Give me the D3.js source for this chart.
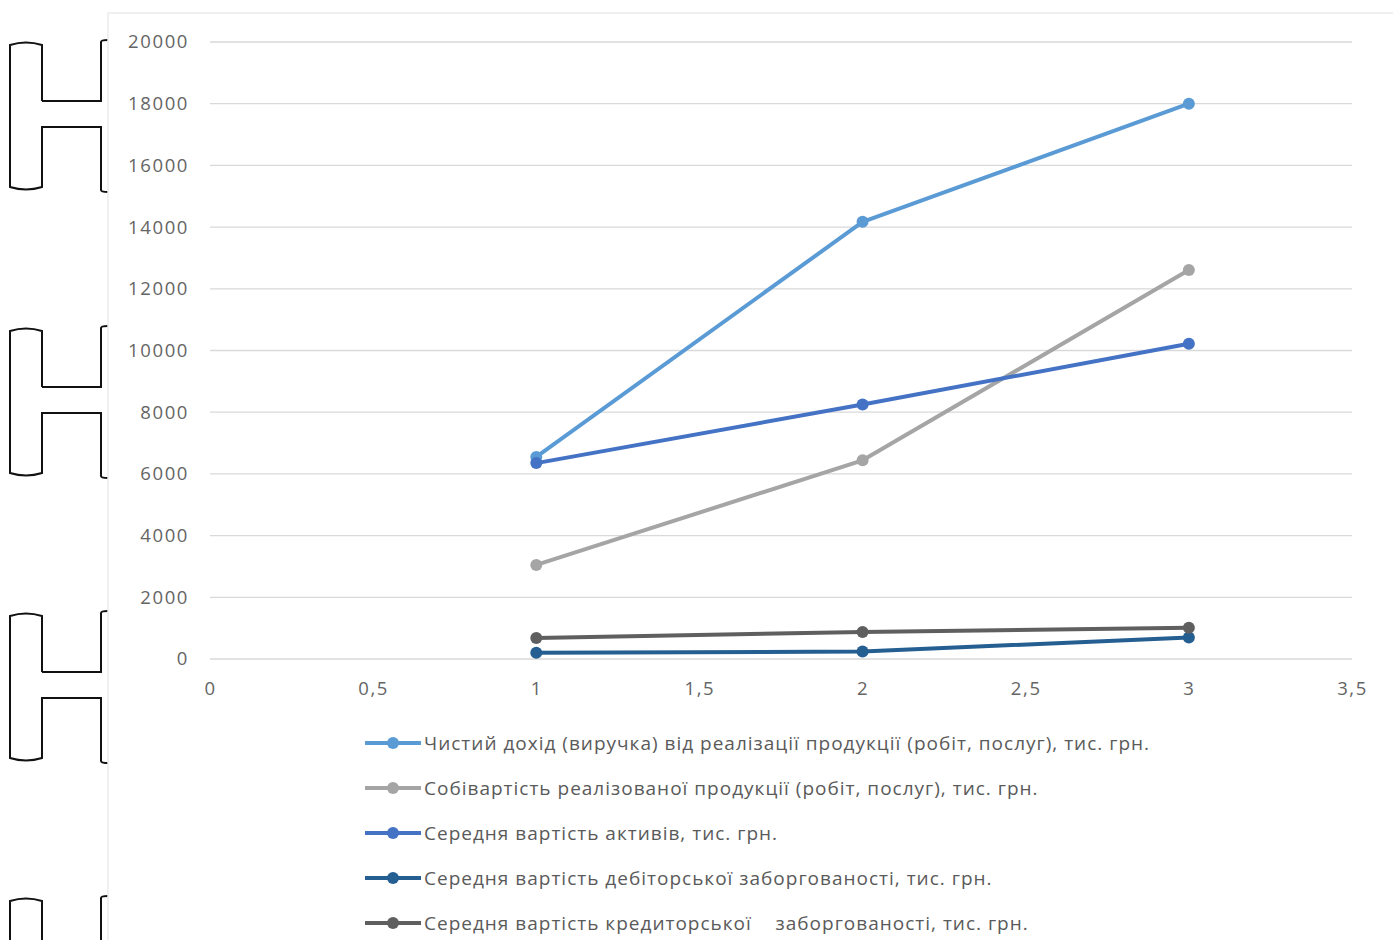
<!DOCTYPE html>
<html>
<head>
<meta charset="utf-8">
<script src="https://cdn.jsdelivr.net/npm/d3@7/dist/d3.min.js"></script>
<style>
  html, body { margin: 0; padding: 0; background: #fff; }
  svg { display: block; }
  text { font-family: "Open Sans", "Noto Sans", sans-serif; }
</style>
</head>
<body>
<svg id="chart" width="1393" height="940"></svg>
<script>
// Period index on the x axis
const periods = [1, 2, 3];

// Series values, тис. грн.
const revenue     = [6550, 14170, 18000];
const costOfSales = [3050, 6440, 12610];
const avgAssets   = [6350, 8250, 10220];
const receivables = [200, 240, 700];
const payables    = [680, 875, 1010];

const seriesNames = [
  "Чистий дохід (виручка) від реалізації продукції (робіт, послуг), тис. грн.",
  "Собівартість реалізованої продукції (робіт, послуг), тис. грн.",
  "Середня вартість активів, тис. грн.",
  "Середня вартість дебіторської заборгованості, тис. грн.",
  "Середня вартість кредиторської    заборгованості, тис. грн."
];
const seriesColors = ["#5b9bd5", "#a5a5a5", "#4472c4", "#255e91", "#5f5f5f"];

const xTicks = [0, 0.5, 1, 1.5, 2, 2.5, 3, 3.5];
const yTicks = [0, 2000, 4000, 6000, 8000, 10000, 12000, 14000, 16000, 18000, 20000];

const seriesValues = [revenue, costOfSales, avgAssets, receivables, payables];

const svg = d3.select("#chart");

// Decorative bracket shapes along the left margin
const brackets = svg.append("g").attr("fill", "none").attr("stroke", "#111").attr("stroke-width", 2);
[42, 328, 613, 898].forEach(top => {
  const h = 148, m1 = top + 59, m2 = top + 85, b = top + h;
  brackets.append("path").attr("d",
    `M42,${m1} L42,${top + 3} Q26,${top - 2} 10,${top + 3} L10,${b - 3} Q26,${b + 2} 42,${b - 3} L42,${m2} L101,${m2} L101,${b} Q101,${b + 2} 108,${b + 2}`);
  brackets.append("path").attr("d",
    `M42,${m1} L101,${m1} L101,${top} Q101,${top - 2} 108,${top - 2}`);
});

// Chart area
svg.append("rect")
  .attr("x", 108).attr("y", 13).attr("width", 1300).attr("height", 940)
  .attr("fill", "#fff").attr("stroke", "#ececec").attr("stroke-width", 1.5);

const x = d3.scaleLinear().domain([0, 3.5]).range([210, 1352]);
const y = d3.scaleLinear().domain([0, 20000]).range([659, 42]);

// Horizontal gridlines
svg.append("g")
  .selectAll("line").data(yTicks).join("line")
  .attr("x1", x(0)).attr("x2", x(3.5))
  .attr("y1", d => y(d)).attr("y2", d => y(d))
  .attr("stroke", "#d9d9d9").attr("stroke-width", 1.3);

const tickStyle = g => g.selectAll("text")
  .attr("fill", "#656565").attr("font-size", 18.5)
  .style("letter-spacing", "1.6px")
  .style("font-family", "'Open Sans', sans-serif");

// Y axis labels
const yAxis = d3.axisLeft(y).tickValues(yTicks).tickSize(0).tickPadding(21).tickFormat(d => String(d));
svg.append("g").attr("transform", `translate(${x(0)},0)`).call(yAxis)
  .call(g => g.select(".domain").remove())
  .call(tickStyle);

// X axis labels
const xAxis = d3.axisBottom(x).tickValues(xTicks).tickSize(0).tickPadding(23)
  .tickFormat(d => String(d).replace(".", ","));
svg.append("g").attr("transform", `translate(0,${y(0)})`).call(xAxis)
  .call(g => g.select(".domain").remove())
  .call(tickStyle);

// Lines and markers
const line = d3.line().x((d, i) => x(periods[i])).y(d => y(d));
const plot = svg.append("g");
seriesValues.forEach((vals, s) => {
  plot.append("path").datum(vals)
    .attr("d", line).attr("fill", "none")
    .attr("stroke", seriesColors[s]).attr("stroke-width", 4).attr("stroke-linejoin", "round");
  plot.selectAll(null).data(vals).join("circle")
    .attr("cx", (d, i) => x(periods[i])).attr("cy", d => y(d)).attr("r", 6)
    .attr("fill", seriesColors[s]);
});

// Legend
const legend = svg.append("g");
seriesNames.forEach((name, s) => {
  const ly = 743 + s * 45;
  const g = legend.append("g").attr("transform", `translate(0,${ly})`);
  g.append("line").attr("x1", 365).attr("x2", 421).attr("y1", 0).attr("y2", 0)
    .attr("stroke", seriesColors[s]).attr("stroke-width", 4);
  g.append("circle").attr("cx", 393).attr("cy", 0).attr("r", 6).attr("fill", seriesColors[s]);
  g.append("text").attr("x", 424).attr("y", 0).attr("dy", "0.35em")
    .attr("fill", "#5a5a5a").attr("font-size", 19)
    .style("letter-spacing", "1px")
    .style("white-space", "pre")
    .text(name);
});
</script>
</body>
</html>
